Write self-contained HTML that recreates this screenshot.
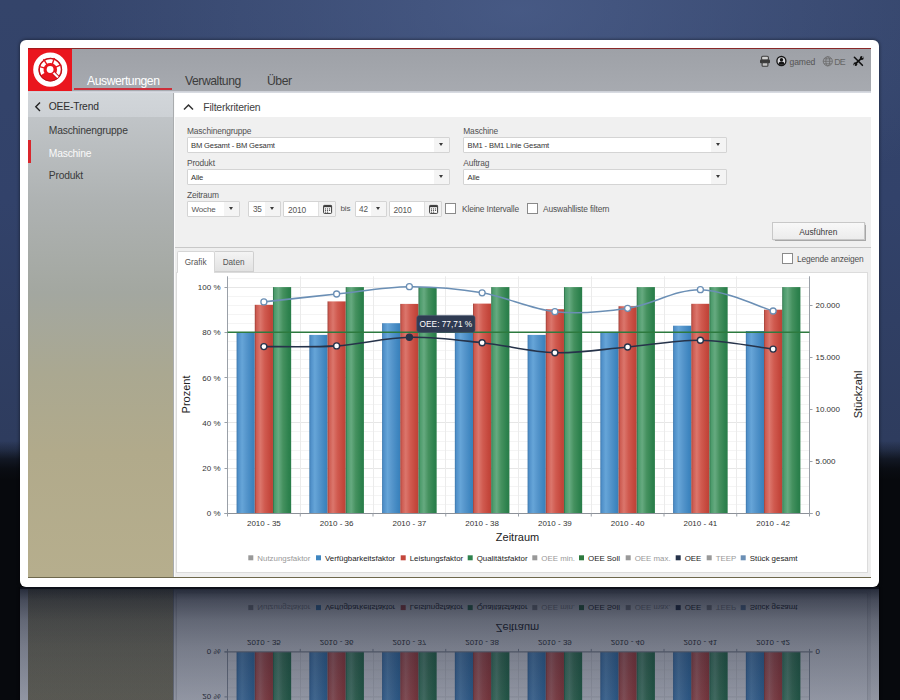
<!DOCTYPE html>
<html><head><meta charset="utf-8">
<style>
*{margin:0;padding:0;box-sizing:border-box}
html,body{width:900px;height:700px;overflow:hidden}
body{font-family:"Liberation Sans",sans-serif;position:relative;
background:
linear-gradient(to bottom, rgba(7,9,13,0) 0px, rgba(7,9,13,0) 441px, rgba(7,9,13,0.3) 450px, rgba(7,9,13,0.7) 459px, rgba(7,9,13,0.92) 469px, #07090d 480px, #07090d 700px),
radial-gradient(ellipse 480px 240px at 520px 10px, rgba(82,102,148,0.62), rgba(82,102,148,0.25) 60%, rgba(82,102,148,0) 100%),
linear-gradient(to bottom, #34446a 0px, #32426a 200px, #2e3c5e 440px, #2c3a5a 460px, #2c3a5a 700px);}
#scene{position:absolute;left:0;top:0;width:900px;height:587px;
}
.a{position:absolute}
#rfx{left:20px;top:587px;width:859px;height:113px;background:linear-gradient(to bottom,rgba(16,20,30,0.6) 0px,rgba(50,70,130,0.2) 3px,rgba(50,70,130,0.2) 113px)}
.card{left:20px;top:40px;width:859px;height:547px;background:#fff;border-radius:6px;box-shadow:0 0 3px 1px rgba(0,0,0,0.35)}
.logo{left:28px;top:48px;width:44px;height:43px;background:#ea161e;box-shadow:inset 0 1.2px 0 #a51a1c}
.hdr{left:72px;top:48px;width:799px;height:43px;background:linear-gradient(to bottom,#9ea1a7,#a7aab0);border-top:1.5px solid #8a2828}
.hdrline{left:28px;top:90.5px;width:843px;height:3px;background:linear-gradient(to bottom,#c9ccd3,#e6e9ef)}
.nav{top:73.7px;font-size:12.2px;letter-spacing:-0.45px;color:#3c3c3c;white-space:nowrap}
.side{left:28px;top:93px;width:145px;height:484.5px;background:linear-gradient(to bottom,#c6cacd 0px,#bfc3c6 30px,#aeb2b2 110px,#a3a7a0 200px,#aaa891 280px,#b1aa8b 360px,#b6ae8d 484px)}
.sidetop{left:28px;top:93px;width:145px;height:24px;background:linear-gradient(to bottom,#d2d6da,#cdd1d5)}
.st{font-size:10.3px;letter-spacing:-0.2px;color:#3a3a3a;white-space:nowrap}
.content{left:173px;top:93px;width:698px;height:484.5px;background:#f0f0f0}
.fhead{left:174px;top:93px;width:697px;height:24px;background:#fff}
.lbl{font-size:8.4px;letter-spacing:-0.15px;color:#505050;white-space:nowrap}
.sel{background:#fff;border:1px solid #d4d4d4;border-radius:1px;height:16px}
.sel .t{position:absolute;left:3.5px;top:3px;font-size:7.6px;letter-spacing:-0.15px;color:#333;white-space:nowrap}
.sel .dd{position:absolute;right:0;top:0;width:15px;height:14px;background:#f4f4f4}
.sel .dd:after{content:"";position:absolute;left:5.1px;top:5px;border-left:2.2px solid transparent;border-right:2.2px solid transparent;border-top:3.6px solid #3a3a3a}
.sel .cal{position:absolute;right:0;top:0;width:17px;height:14px;background:#f2f2f2;border-left:1px solid #e0e0e0}
.cal svg{position:absolute;left:0;top:0}
.cb{width:11px;height:11px;background:#fff;border:1px solid #8a8a8a}
.chartp{left:176px;top:272px;width:692px;height:300.5px;background:#fff;border:1px solid #dcdcdc}
</style></head><body>
<div id="scene">
<div class="a card"></div>
<div class="a logo">
<svg width="43" height="43" viewBox="28 48 43 43" style="position:absolute;left:0;top:0">
<circle cx="50.3" cy="69.7" r="14.5" fill="none" stroke="#fff" stroke-width="5.2"/>
<circle cx="50.3" cy="69.7" r="11.3" fill="none" stroke="#a8141a" stroke-width="0.9"/>
<path d="M42.85,74.0 A8.6,8.6 0 1 1 56.9,75.2" fill="none" stroke="#fff" stroke-width="3.7"/>
<g stroke="#e8141c" stroke-width="1.4">
<line x1="50.3" y1="69.7" x2="38.8" y2="66.4"/>
<line x1="50.3" y1="69.7" x2="43.5" y2="59.2"/>
<line x1="50.3" y1="69.7" x2="54.4" y2="58.1"/>
<line x1="50.3" y1="69.7" x2="61.2" y2="64.6"/>
</g>
<line x1="50.3" y1="69.7" x2="57.8" y2="77.2" stroke="#c8121a" stroke-width="4"/>
<line x1="50.3" y1="69.7" x2="57.4" y2="76.8" stroke="#fff" stroke-width="2.1" stroke-linecap="round"/>
<circle cx="50.3" cy="69.7" r="4.6" fill="#e8141c"/>
<circle cx="50.1" cy="69.5" r="3.4" fill="#fff"/>
</svg>
</div>
<div class="a hdr"></div>
<div class="a hdrline"></div>
<div class="a nav" style="left:87px;color:#fff">Auswertungen</div>
<div class="a" style="left:74px;top:87.8px;width:98px;height:2.4px;background:#cc2f3a"></div>
<div class="a nav" style="left:185px">Verwaltung</div>
<div class="a nav" style="left:267px">Über</div>
<!-- header icons -->
<svg class="a" style="left:755px;top:52px" width="115" height="20" viewBox="755 52 115 20">
<rect x="761.6" y="56.3" width="6.8" height="4" rx="1.2" fill="#d0d0d0" stroke="#3e3e3e" stroke-width="1.1"/>
<rect x="760" y="59.6" width="10" height="3.6" rx="1" fill="#3a3a3a"/>
<rect x="762.1" y="62.6" width="5.8" height="3.6" rx="0.8" fill="#c4c4c4" stroke="#3e3e3e" stroke-width="1.1"/>
<circle cx="781.4" cy="61" r="4.5" fill="#d6d6da" stroke="#151515" stroke-width="1.3"/>
<circle cx="781.5" cy="59.8" r="1.7" fill="#151515"/>
<path d="M778.3,64.8 Q778.6,61.6 781.5,61.6 Q784.4,61.6 784.7,64.8 Z" fill="#151515"/>
<text x="789.5" y="65" font-size="8.6" fill="#555" letter-spacing="-0.1">gamed</text>
<g fill="none" stroke="#6a6a6a" stroke-width="0.8">
<circle cx="827.8" cy="61.3" r="4.6"/>
<ellipse cx="827.8" cy="61.3" rx="2" ry="4.6"/>
<line x1="823.2" y1="61.3" x2="832.4" y2="61.3"/>
<line x1="824" y1="58.8" x2="831.6" y2="58.8"/>
<line x1="824" y1="63.8" x2="831.6" y2="63.8"/>
</g>
<text x="834.2" y="65.2" font-size="8.8" fill="#666" letter-spacing="-0.7">DE</text>
<g stroke="#111" stroke-linecap="round">
<line x1="854.4" y1="57.3" x2="862.4" y2="65.3" stroke-width="1.6"/>
<line x1="856" y1="63.4" x2="861" y2="58.6" stroke-width="1.9"/>
</g>
<g fill="#111">
<circle cx="861.8" cy="58" r="1.9"/>
<circle cx="855.3" cy="64.2" r="1.9"/>
</g>
<g fill="#a2a5ab">
<circle cx="862.7" cy="57.1" r="0.8"/>
<circle cx="854.4" cy="65.1" r="0.8"/>
</g>
</svg>
<!-- sidebar -->
<div class="a side"></div>
<div class="a sidetop"></div>
<svg class="a" style="left:34px;top:101px" width="8" height="11"><path d="M6,1.5 L1.8,5.8 L6,10" fill="none" stroke="#222" stroke-width="1.4"/></svg>
<div class="a st" style="left:48.8px;top:100.5px;color:#2e2e2e">OEE-Trend</div>
<div class="a st" style="left:48.8px;top:125px">Maschinengruppe</div>
<div class="a" style="left:28px;top:140px;width:2.5px;height:23px;background:#d9262c"></div>
<div class="a st" style="left:48.8px;top:148px;color:#fafafa">Maschine</div>
<div class="a st" style="left:48.8px;top:170.2px">Produkt</div>
<!-- content -->
<div class="a content"></div>
<div class="a fhead"></div>
<svg class="a" style="left:183px;top:103px" width="12" height="8"><path d="M1,6.5 L5.5,2 L10,6.5" fill="none" stroke="#333" stroke-width="1.5"/></svg>
<div class="a" style="left:203.3px;top:101.8px;font-size:10.4px;letter-spacing:-0.2px;color:#3e3e3e">Filterkriterien</div>

<div class="a lbl" style="left:187px;top:125.5px">Maschinengruppe</div>
<div class="a sel" style="left:186.5px;top:137px;width:263px"><span class="t">BM Gesamt - BM Gesamt</span><span class="dd"></span></div>
<div class="a lbl" style="left:187px;top:157.5px">Produkt</div>
<div class="a sel" style="left:186.5px;top:168.5px;width:263px"><span class="t">Alle</span><span class="dd"></span></div>
<div class="a lbl" style="left:187px;top:190px">Zeitraum</div>
<div class="a sel" style="left:187px;top:201px;width:53px"><span class="t" style="font-size:8px;top:2.8px;color:#555">Woche</span><span class="dd"></span></div>
<div class="a sel" style="left:248.4px;top:201px;width:33px"><span class="t" style="font-size:8.2px;top:2.8px;color:#555">35</span><span class="dd"></span></div>
<div class="a sel" style="left:283.4px;top:201px;width:53px"><span class="t" style="font-size:8.4px;top:2.6px;color:#555">2010</span><span class="cal"><svg width="17" height="14" viewBox="0 0 17 14"><rect x="4.6" y="3.4" width="8" height="8" rx="0.8" fill="#fff" stroke="#3a3a3a" stroke-width="1"/><rect x="4.6" y="3.4" width="8" height="1.8" fill="#3a3a3a"/><g fill="#3a3a3a"><circle cx="6.6" cy="6.9" r="0.6"/><circle cx="8.6" cy="6.9" r="0.6"/><circle cx="10.6" cy="6.9" r="0.6"/><circle cx="6.6" cy="8.5" r="0.6"/><circle cx="8.6" cy="8.5" r="0.6"/><circle cx="10.6" cy="8.5" r="0.6"/><circle cx="6.6" cy="10.1" r="0.6"/><circle cx="8.6" cy="10.1" r="0.6"/></g></svg></span></div>
<div class="a lbl" style="left:340.5px;top:203.6px;font-size:8.1px;color:#555">bis</div>
<div class="a sel" style="left:354.5px;top:201px;width:32.5px"><span class="t" style="font-size:8.2px;top:2.8px;color:#555">42</span><span class="dd"></span></div>
<div class="a sel" style="left:389px;top:201px;width:53px"><span class="t" style="font-size:8.4px;top:2.6px;color:#555">2010</span><span class="cal"><svg width="17" height="14" viewBox="0 0 17 14"><rect x="4.6" y="3.4" width="8" height="8" rx="0.8" fill="#fff" stroke="#3a3a3a" stroke-width="1"/><rect x="4.6" y="3.4" width="8" height="1.8" fill="#3a3a3a"/><g fill="#3a3a3a"><circle cx="6.6" cy="6.9" r="0.6"/><circle cx="8.6" cy="6.9" r="0.6"/><circle cx="10.6" cy="6.9" r="0.6"/><circle cx="6.6" cy="8.5" r="0.6"/><circle cx="8.6" cy="8.5" r="0.6"/><circle cx="10.6" cy="8.5" r="0.6"/><circle cx="6.6" cy="10.1" r="0.6"/><circle cx="8.6" cy="10.1" r="0.6"/></g></svg></span></div>
<div class="a cb" style="left:445px;top:203px"></div>
<div class="a lbl" style="left:462px;top:204px">Kleine Intervalle</div>
<div class="a cb" style="left:526.5px;top:203px"></div>
<div class="a lbl" style="left:543px;top:204px">Auswahlliste filtern</div>

<div class="a lbl" style="left:463.3px;top:125.5px">Maschine</div>
<div class="a sel" style="left:463px;top:137px;width:264px"><span class="t">BM1 - BM1 Linie Gesamt</span><span class="dd"></span></div>
<div class="a lbl" style="left:463.3px;top:157.5px">Auftrag</div>
<div class="a sel" style="left:463px;top:168.5px;width:264px"><span class="t">Alle</span><span class="dd"></span></div>

<div class="a" style="left:772px;top:222px;width:92.5px;height:17.8px;background:linear-gradient(#f8f8f8,#ececec);border:1px solid #c8c8c8;box-shadow:0.7px 0.7px 0.8px rgba(0,0,0,0.3);font-size:8.4px;color:#3a3a3a;text-align:center;line-height:19px">Ausführen</div>

<!-- chart panel -->
<div class="a" style="left:173px;top:246.5px;width:698px;height:1px;background:#c8c8c8"></div>
<div class="a" style="left:174px;top:247.5px;width:697px;height:330px;background:#efefef"></div>
<div class="a" style="left:176.6px;top:251.2px;width:38px;height:21.3px;background:#fff;border:1px solid #d6d6d6;border-bottom:none;border-radius:2px 2px 0 0;font-size:8.2px;color:#555;text-align:center;line-height:22.5px">Grafik</div>
<div class="a" style="left:214.6px;top:251.2px;width:39px;height:20.8px;border-radius:0 2px 0 0;background:linear-gradient(#f4f4f4,#e2e2e2);border:1px solid #cfcfcf;border-left:none;font-size:8.2px;color:#555;text-align:center;line-height:22.5px">Daten</div>
<div class="a cb" style="left:781.6px;top:253px"></div>
<div class="a lbl" style="left:797px;top:254px">Legende anzeigen</div>
<div class="a chartp"></div>
<div class="a" style="left:177.6px;top:271.5px;width:36.6px;height:1.6px;background:#fff"></div>
<div class="a" style="left:173px;top:93px;width:2px;height:484px;background:#fbfbfb;border-left:0.6px solid #a9acae"></div>
<div class="a" style="left:28px;top:576.5px;width:843px;height:1.2px;background:#6e684c"></div>
<svg width="692" height="300" viewBox="176 272 692 300" style="position:absolute;left:176px;top:272px">
<defs>
<linearGradient id="gb" x1="0" x2="1" y1="0" y2="0"><stop offset="0" stop-color="#3a74a8"/><stop offset="0.08" stop-color="#4f8fc8"/><stop offset="0.3" stop-color="#66a5d8"/><stop offset="0.55" stop-color="#5595cb"/><stop offset="0.85" stop-color="#3f86c0"/><stop offset="1" stop-color="#3a7fb8"/></linearGradient>
<linearGradient id="gr" x1="0" x2="1" y1="0" y2="0"><stop offset="0" stop-color="#9a3b32"/><stop offset="0.08" stop-color="#cc5a50"/><stop offset="0.3" stop-color="#db766c"/><stop offset="0.55" stop-color="#d05a4f"/><stop offset="0.85" stop-color="#c4473c"/><stop offset="1" stop-color="#bd4236"/></linearGradient>
<linearGradient id="gg" x1="0" x2="1" y1="0" y2="0"><stop offset="0" stop-color="#2a6a44"/><stop offset="0.08" stop-color="#4a9a6a"/><stop offset="0.3" stop-color="#66aa80"/><stop offset="0.55" stop-color="#45915f"/><stop offset="0.85" stop-color="#2e824e"/><stop offset="1" stop-color="#287c48"/></linearGradient>
</defs>
<rect x="227.5" y="276.3" width="582.0" height="237.2" fill="#fff"/>
<line x1="227.5" x2="809.5" y1="513.50" y2="513.50" stroke="#e6e6e6" stroke-width="1"/>
<line x1="227.5" x2="809.5" y1="504.50" y2="504.50" stroke="#f4f4f4" stroke-width="1"/>
<line x1="227.5" x2="809.5" y1="495.50" y2="495.50" stroke="#f4f4f4" stroke-width="1"/>
<line x1="227.5" x2="809.5" y1="486.50" y2="486.50" stroke="#f4f4f4" stroke-width="1"/>
<line x1="227.5" x2="809.5" y1="477.50" y2="477.50" stroke="#f4f4f4" stroke-width="1"/>
<line x1="227.5" x2="809.5" y1="468.50" y2="468.50" stroke="#e6e6e6" stroke-width="1"/>
<line x1="227.5" x2="809.5" y1="459.50" y2="459.50" stroke="#f4f4f4" stroke-width="1"/>
<line x1="227.5" x2="809.5" y1="450.50" y2="450.50" stroke="#f4f4f4" stroke-width="1"/>
<line x1="227.5" x2="809.5" y1="441.50" y2="441.50" stroke="#f4f4f4" stroke-width="1"/>
<line x1="227.5" x2="809.5" y1="431.50" y2="431.50" stroke="#f4f4f4" stroke-width="1"/>
<line x1="227.5" x2="809.5" y1="422.50" y2="422.50" stroke="#e6e6e6" stroke-width="1"/>
<line x1="227.5" x2="809.5" y1="413.50" y2="413.50" stroke="#f4f4f4" stroke-width="1"/>
<line x1="227.5" x2="809.5" y1="404.50" y2="404.50" stroke="#f4f4f4" stroke-width="1"/>
<line x1="227.5" x2="809.5" y1="395.50" y2="395.50" stroke="#f4f4f4" stroke-width="1"/>
<line x1="227.5" x2="809.5" y1="386.50" y2="386.50" stroke="#f4f4f4" stroke-width="1"/>
<line x1="227.5" x2="809.5" y1="377.50" y2="377.50" stroke="#e6e6e6" stroke-width="1"/>
<line x1="227.5" x2="809.5" y1="368.50" y2="368.50" stroke="#f4f4f4" stroke-width="1"/>
<line x1="227.5" x2="809.5" y1="359.50" y2="359.50" stroke="#f4f4f4" stroke-width="1"/>
<line x1="227.5" x2="809.5" y1="350.50" y2="350.50" stroke="#f4f4f4" stroke-width="1"/>
<line x1="227.5" x2="809.5" y1="341.50" y2="341.50" stroke="#f4f4f4" stroke-width="1"/>
<line x1="227.5" x2="809.5" y1="332.50" y2="332.50" stroke="#e6e6e6" stroke-width="1"/>
<line x1="227.5" x2="809.5" y1="323.50" y2="323.50" stroke="#f4f4f4" stroke-width="1"/>
<line x1="227.5" x2="809.5" y1="314.50" y2="314.50" stroke="#f4f4f4" stroke-width="1"/>
<line x1="227.5" x2="809.5" y1="305.50" y2="305.50" stroke="#f4f4f4" stroke-width="1"/>
<line x1="227.5" x2="809.5" y1="296.50" y2="296.50" stroke="#f4f4f4" stroke-width="1"/>
<line x1="227.5" x2="809.5" y1="287.50" y2="287.50" stroke="#e6e6e6" stroke-width="1"/>
<line x1="227.5" x2="809.5" y1="278.50" y2="278.50" stroke="#f4f4f4" stroke-width="1"/>
<line x1="300.50" x2="300.50" y1="276.3" y2="513.5" stroke="#ebebeb" stroke-width="1"/>
<line x1="373.50" x2="373.50" y1="276.3" y2="513.5" stroke="#ebebeb" stroke-width="1"/>
<line x1="445.50" x2="445.50" y1="276.3" y2="513.5" stroke="#ebebeb" stroke-width="1"/>
<line x1="518.50" x2="518.50" y1="276.3" y2="513.5" stroke="#ebebeb" stroke-width="1"/>
<line x1="591.50" x2="591.50" y1="276.3" y2="513.5" stroke="#ebebeb" stroke-width="1"/>
<line x1="664.50" x2="664.50" y1="276.3" y2="513.5" stroke="#ebebeb" stroke-width="1"/>
<line x1="736.50" x2="736.50" y1="276.3" y2="513.5" stroke="#ebebeb" stroke-width="1"/>
<rect x="236.59" y="332.50" width="18.19" height="181.00" fill="url(#gb)"/>
<rect x="254.78" y="304.80" width="18.19" height="208.70" fill="url(#gr)"/>
<rect x="272.97" y="287.10" width="18.19" height="226.40" fill="url(#gg)"/>
<rect x="309.34" y="334.90" width="18.19" height="178.60" fill="url(#gb)"/>
<rect x="327.53" y="301.40" width="18.19" height="212.10" fill="url(#gr)"/>
<rect x="345.72" y="287.10" width="18.19" height="226.40" fill="url(#gg)"/>
<rect x="382.09" y="323.20" width="18.19" height="190.30" fill="url(#gb)"/>
<rect x="400.28" y="303.90" width="18.19" height="209.60" fill="url(#gr)"/>
<rect x="418.47" y="287.10" width="18.19" height="226.40" fill="url(#gg)"/>
<rect x="454.84" y="330.50" width="18.19" height="183.00" fill="url(#gb)"/>
<rect x="473.03" y="303.60" width="18.19" height="209.90" fill="url(#gr)"/>
<rect x="491.22" y="287.10" width="18.19" height="226.40" fill="url(#gg)"/>
<rect x="527.59" y="334.90" width="18.19" height="178.60" fill="url(#gb)"/>
<rect x="545.78" y="309.20" width="18.19" height="204.30" fill="url(#gr)"/>
<rect x="563.97" y="287.10" width="18.19" height="226.40" fill="url(#gg)"/>
<rect x="600.34" y="331.80" width="18.19" height="181.70" fill="url(#gb)"/>
<rect x="618.53" y="306.20" width="18.19" height="207.30" fill="url(#gr)"/>
<rect x="636.72" y="287.10" width="18.19" height="226.40" fill="url(#gg)"/>
<rect x="673.09" y="325.70" width="18.19" height="187.80" fill="url(#gb)"/>
<rect x="691.28" y="303.80" width="18.19" height="209.70" fill="url(#gr)"/>
<rect x="709.47" y="287.10" width="18.19" height="226.40" fill="url(#gg)"/>
<rect x="745.84" y="331.00" width="18.19" height="182.50" fill="url(#gb)"/>
<rect x="764.03" y="309.70" width="18.19" height="203.80" fill="url(#gr)"/>
<rect x="782.22" y="287.10" width="18.19" height="226.40" fill="url(#gg)"/>
<line x1="227.5" x2="227.5" y1="276.3" y2="514.0" stroke="#9aa0a8" stroke-width="1"/>
<line x1="809.5" x2="809.5" y1="276.3" y2="514.0" stroke="#9aa0a8" stroke-width="1"/>
<line x1="224.5" x2="812.5" y1="513.5" y2="513.5" stroke="#8c9198" stroke-width="1"/>
<line x1="224.5" x2="227.5" y1="513.50" y2="513.50" stroke="#9aa0a8"/>
<text x="220.5" y="516.40" text-anchor="end" font-size="8" fill="#333">0 %</text>
<line x1="224.5" x2="227.5" y1="468.50" y2="468.50" stroke="#9aa0a8"/>
<text x="220.5" y="471.12" text-anchor="end" font-size="8" fill="#333">20 %</text>
<line x1="224.5" x2="227.5" y1="422.50" y2="422.50" stroke="#9aa0a8"/>
<text x="220.5" y="425.84" text-anchor="end" font-size="8" fill="#333">40 %</text>
<line x1="224.5" x2="227.5" y1="377.50" y2="377.50" stroke="#9aa0a8"/>
<text x="220.5" y="380.56" text-anchor="end" font-size="8" fill="#333">60 %</text>
<line x1="224.5" x2="227.5" y1="332.50" y2="332.50" stroke="#9aa0a8"/>
<text x="220.5" y="335.28" text-anchor="end" font-size="8" fill="#333">80 %</text>
<line x1="224.5" x2="227.5" y1="287.50" y2="287.50" stroke="#9aa0a8"/>
<text x="220.5" y="290.00" text-anchor="end" font-size="8" fill="#333">100 %</text>
<line x1="809.5" x2="812.5" y1="513.50" y2="513.50" stroke="#9aa0a8"/>
<text x="815.5" y="516.40" font-size="8" fill="#333">0</text>
<line x1="809.5" x2="812.5" y1="461.50" y2="461.50" stroke="#9aa0a8"/>
<text x="815.5" y="464.40" font-size="8" fill="#333">5.000</text>
<line x1="809.5" x2="812.5" y1="409.50" y2="409.50" stroke="#9aa0a8"/>
<text x="815.5" y="412.40" font-size="8" fill="#333">10.000</text>
<line x1="809.5" x2="812.5" y1="357.50" y2="357.50" stroke="#9aa0a8"/>
<text x="815.5" y="360.40" font-size="8" fill="#333">15.000</text>
<line x1="809.5" x2="812.5" y1="305.50" y2="305.50" stroke="#9aa0a8"/>
<text x="815.5" y="308.40" font-size="8" fill="#333">20.000</text>
<line x1="227.50" x2="227.50" y1="513.5" y2="516.5" stroke="#9aa0a8"/>
<line x1="300.25" x2="300.25" y1="513.5" y2="516.5" stroke="#9aa0a8"/>
<line x1="373.00" x2="373.00" y1="513.5" y2="516.5" stroke="#9aa0a8"/>
<line x1="445.75" x2="445.75" y1="513.5" y2="516.5" stroke="#9aa0a8"/>
<line x1="518.50" x2="518.50" y1="513.5" y2="516.5" stroke="#9aa0a8"/>
<line x1="591.25" x2="591.25" y1="513.5" y2="516.5" stroke="#9aa0a8"/>
<line x1="664.00" x2="664.00" y1="513.5" y2="516.5" stroke="#9aa0a8"/>
<line x1="736.75" x2="736.75" y1="513.5" y2="516.5" stroke="#9aa0a8"/>
<line x1="809.50" x2="809.50" y1="513.5" y2="516.5" stroke="#9aa0a8"/>
<text x="263.88" y="525.70" text-anchor="middle" font-size="8" fill="#333">2010 - 35</text>
<text x="336.62" y="525.70" text-anchor="middle" font-size="8" fill="#333">2010 - 36</text>
<text x="409.38" y="525.70" text-anchor="middle" font-size="8" fill="#333">2010 - 37</text>
<text x="482.12" y="525.70" text-anchor="middle" font-size="8" fill="#333">2010 - 38</text>
<text x="554.88" y="525.70" text-anchor="middle" font-size="8" fill="#333">2010 - 39</text>
<text x="627.62" y="525.70" text-anchor="middle" font-size="8" fill="#333">2010 - 40</text>
<text x="700.38" y="525.70" text-anchor="middle" font-size="8" fill="#333">2010 - 41</text>
<text x="773.12" y="525.70" text-anchor="middle" font-size="8" fill="#333">2010 - 42</text>
<line x1="227.5" x2="809.5" y1="332.3" y2="332.3" stroke="#2d7a3e" stroke-width="1.6"/>
<path d="M263.88,301.90 C276.00,300.58 312.38,296.53 336.62,294.00 C360.88,291.47 385.12,286.90 409.38,286.70 C433.62,286.50 457.88,288.63 482.12,292.80 C506.38,296.97 530.62,309.12 554.88,311.70 C579.12,314.28 603.38,311.97 627.62,308.30 C651.88,304.63 676.12,289.25 700.38,289.70 C724.62,290.15 761.00,307.45 773.12,311.00" fill="none" stroke="#6b8fb5" stroke-width="1.6"/>
<path d="M263.88,346.60 C276.00,346.48 312.38,347.45 336.62,345.90 C360.88,344.35 385.12,337.83 409.38,337.30 C433.62,336.77 457.88,340.13 482.12,342.70 C506.38,345.27 530.62,351.98 554.88,352.70 C579.12,353.42 603.38,349.07 627.62,347.00 C651.88,344.93 676.12,339.95 700.38,340.30 C724.62,340.65 761.00,347.63 773.12,349.10" fill="none" stroke="#26334a" stroke-width="1.6"/>
<circle cx="263.88" cy="301.90" r="3" fill="#fff" stroke="#6b8fb5" stroke-width="1.3"/>
<circle cx="336.62" cy="294.00" r="3" fill="#fff" stroke="#6b8fb5" stroke-width="1.3"/>
<circle cx="409.38" cy="286.70" r="3" fill="#fff" stroke="#6b8fb5" stroke-width="1.3"/>
<circle cx="482.12" cy="292.80" r="3" fill="#fff" stroke="#6b8fb5" stroke-width="1.3"/>
<circle cx="554.88" cy="311.70" r="3" fill="#fff" stroke="#6b8fb5" stroke-width="1.3"/>
<circle cx="627.62" cy="308.30" r="3" fill="#fff" stroke="#6b8fb5" stroke-width="1.3"/>
<circle cx="700.38" cy="289.70" r="3" fill="#fff" stroke="#6b8fb5" stroke-width="1.3"/>
<circle cx="773.12" cy="311.00" r="3" fill="#fff" stroke="#6b8fb5" stroke-width="1.3"/>
<circle cx="263.88" cy="346.60" r="3" fill="#fff" stroke="#26334a" stroke-width="1.4"/>
<circle cx="336.62" cy="345.90" r="3" fill="#fff" stroke="#26334a" stroke-width="1.4"/>
<circle cx="409.38" cy="337.30" r="3" fill="#26334a" stroke="#26334a" stroke-width="1.4"/>
<circle cx="482.12" cy="342.70" r="3" fill="#fff" stroke="#26334a" stroke-width="1.4"/>
<circle cx="554.88" cy="352.70" r="3" fill="#fff" stroke="#26334a" stroke-width="1.4"/>
<circle cx="627.62" cy="347.00" r="3" fill="#fff" stroke="#26334a" stroke-width="1.4"/>
<circle cx="700.38" cy="340.30" r="3" fill="#fff" stroke="#26334a" stroke-width="1.4"/>
<circle cx="773.12" cy="349.10" r="3" fill="#fff" stroke="#26334a" stroke-width="1.4"/>
<rect x="416.8" y="315.4" width="58.2" height="17" rx="2.5" fill="#2f3b52" stroke="#4a5770" stroke-width="0.6"/>
<text x="445.9" y="327" text-anchor="middle" font-size="8.3" fill="#fff">OEE: 77,71 %</text>
<text transform="translate(190.2,394.5) rotate(-90)" text-anchor="middle" font-size="11" fill="#222">Prozent</text>
<text transform="translate(862,394.5) rotate(-90)" text-anchor="middle" font-size="11" fill="#222">Stückzahl</text>
<text x="517.5" y="541" text-anchor="middle" font-size="11" fill="#222">Zeitraum</text>
<rect x="248.3" y="555.3" width="5" height="5" fill="#999"/>
<text x="257.3" y="560.6" font-size="7.9" fill="#999">Nutzungsfaktor</text>
<rect x="316.0" y="555.3" width="5" height="5" fill="#3f86c0"/>
<text x="325.0" y="560.6" font-size="7.9" fill="#222">Verfügbarkeitsfaktor</text>
<rect x="400.7" y="555.3" width="5" height="5" fill="#c4473c"/>
<text x="409.7" y="560.6" font-size="7.9" fill="#222">Leistungsfaktor</text>
<rect x="467.7" y="555.3" width="5" height="5" fill="#2e824e"/>
<text x="476.7" y="560.6" font-size="7.9" fill="#222">Qualitätsfaktor</text>
<rect x="532.3" y="555.3" width="5" height="5" fill="#999"/>
<text x="541.3" y="560.6" font-size="7.9" fill="#999">OEE min.</text>
<rect x="579.0" y="555.3" width="5" height="5" fill="#2d7a3e"/>
<text x="588.0" y="560.6" font-size="7.9" fill="#222">OEE Soll</text>
<rect x="625.7" y="555.3" width="5" height="5" fill="#999"/>
<text x="634.7" y="560.6" font-size="7.9" fill="#999">OEE max.</text>
<rect x="675.7" y="555.3" width="5" height="5" fill="#26334a"/>
<text x="684.7" y="560.6" font-size="7.9" fill="#222">OEE</text>
<rect x="706.7" y="555.3" width="5" height="5" fill="#999"/>
<text x="715.7" y="560.6" font-size="7.9" fill="#999">TEEP</text>
<rect x="740.7" y="555.3" width="5" height="5" fill="#6b8fb5"/>
<text x="749.7" y="560.6" font-size="7.9" fill="#222">Stück gesamt</text>
</svg>
</div>
<div class="a" style="left:0;top:587px;width:900px;height:113px;overflow:hidden"><div class="a mir" style="left:0;top:-587px;width:900px;height:587px;transform-origin:0 0;transform:matrix(1,0,0,-1,0,1165.4)">
<div class="a card"></div>
<div class="a logo">
<svg width="43" height="43" viewBox="28 48 43 43" style="position:absolute;left:0;top:0">
<circle cx="50.3" cy="69.7" r="14.5" fill="none" stroke="#fff" stroke-width="5.2"/>
<circle cx="50.3" cy="69.7" r="11.3" fill="none" stroke="#a8141a" stroke-width="0.9"/>
<path d="M42.85,74.0 A8.6,8.6 0 1 1 56.9,75.2" fill="none" stroke="#fff" stroke-width="3.7"/>
<g stroke="#e8141c" stroke-width="1.4">
<line x1="50.3" y1="69.7" x2="38.8" y2="66.4"/>
<line x1="50.3" y1="69.7" x2="43.5" y2="59.2"/>
<line x1="50.3" y1="69.7" x2="54.4" y2="58.1"/>
<line x1="50.3" y1="69.7" x2="61.2" y2="64.6"/>
</g>
<line x1="50.3" y1="69.7" x2="57.8" y2="77.2" stroke="#c8121a" stroke-width="4"/>
<line x1="50.3" y1="69.7" x2="57.4" y2="76.8" stroke="#fff" stroke-width="2.1" stroke-linecap="round"/>
<circle cx="50.3" cy="69.7" r="4.6" fill="#e8141c"/>
<circle cx="50.1" cy="69.5" r="3.4" fill="#fff"/>
</svg>
</div>
<div class="a hdr"></div>
<div class="a hdrline"></div>
<div class="a nav" style="left:87px;color:#fff">Auswertungen</div>
<div class="a" style="left:74px;top:87.8px;width:98px;height:2.4px;background:#cc2f3a"></div>
<div class="a nav" style="left:185px">Verwaltung</div>
<div class="a nav" style="left:267px">Über</div>
<!-- header icons -->
<svg class="a" style="left:755px;top:52px" width="115" height="20" viewBox="755 52 115 20">
<rect x="761.6" y="56.3" width="6.8" height="4" rx="1.2" fill="#d0d0d0" stroke="#3e3e3e" stroke-width="1.1"/>
<rect x="760" y="59.6" width="10" height="3.6" rx="1" fill="#3a3a3a"/>
<rect x="762.1" y="62.6" width="5.8" height="3.6" rx="0.8" fill="#c4c4c4" stroke="#3e3e3e" stroke-width="1.1"/>
<circle cx="781.4" cy="61" r="4.5" fill="#d6d6da" stroke="#151515" stroke-width="1.3"/>
<circle cx="781.5" cy="59.8" r="1.7" fill="#151515"/>
<path d="M778.3,64.8 Q778.6,61.6 781.5,61.6 Q784.4,61.6 784.7,64.8 Z" fill="#151515"/>
<text x="789.5" y="65" font-size="8.6" fill="#555" letter-spacing="-0.1">gamed</text>
<g fill="none" stroke="#6a6a6a" stroke-width="0.8">
<circle cx="827.8" cy="61.3" r="4.6"/>
<ellipse cx="827.8" cy="61.3" rx="2" ry="4.6"/>
<line x1="823.2" y1="61.3" x2="832.4" y2="61.3"/>
<line x1="824" y1="58.8" x2="831.6" y2="58.8"/>
<line x1="824" y1="63.8" x2="831.6" y2="63.8"/>
</g>
<text x="834.2" y="65.2" font-size="8.8" fill="#666" letter-spacing="-0.7">DE</text>
<g stroke="#111" stroke-linecap="round">
<line x1="854.4" y1="57.3" x2="862.4" y2="65.3" stroke-width="1.6"/>
<line x1="856" y1="63.4" x2="861" y2="58.6" stroke-width="1.9"/>
</g>
<g fill="#111">
<circle cx="861.8" cy="58" r="1.9"/>
<circle cx="855.3" cy="64.2" r="1.9"/>
</g>
<g fill="#a2a5ab">
<circle cx="862.7" cy="57.1" r="0.8"/>
<circle cx="854.4" cy="65.1" r="0.8"/>
</g>
</svg>
<!-- sidebar -->
<div class="a side"></div>
<div class="a sidetop"></div>
<svg class="a" style="left:34px;top:101px" width="8" height="11"><path d="M6,1.5 L1.8,5.8 L6,10" fill="none" stroke="#222" stroke-width="1.4"/></svg>
<div class="a st" style="left:48.8px;top:100.5px;color:#2e2e2e">OEE-Trend</div>
<div class="a st" style="left:48.8px;top:125px">Maschinengruppe</div>
<div class="a" style="left:28px;top:140px;width:2.5px;height:23px;background:#d9262c"></div>
<div class="a st" style="left:48.8px;top:148px;color:#fafafa">Maschine</div>
<div class="a st" style="left:48.8px;top:170.2px">Produkt</div>
<!-- content -->
<div class="a content"></div>
<div class="a fhead"></div>
<svg class="a" style="left:183px;top:103px" width="12" height="8"><path d="M1,6.5 L5.5,2 L10,6.5" fill="none" stroke="#333" stroke-width="1.5"/></svg>
<div class="a" style="left:203.3px;top:101.8px;font-size:10.4px;letter-spacing:-0.2px;color:#3e3e3e">Filterkriterien</div>

<div class="a lbl" style="left:187px;top:125.5px">Maschinengruppe</div>
<div class="a sel" style="left:186.5px;top:137px;width:263px"><span class="t">BM Gesamt - BM Gesamt</span><span class="dd"></span></div>
<div class="a lbl" style="left:187px;top:157.5px">Produkt</div>
<div class="a sel" style="left:186.5px;top:168.5px;width:263px"><span class="t">Alle</span><span class="dd"></span></div>
<div class="a lbl" style="left:187px;top:190px">Zeitraum</div>
<div class="a sel" style="left:187px;top:201px;width:53px"><span class="t" style="font-size:8px;top:2.8px;color:#555">Woche</span><span class="dd"></span></div>
<div class="a sel" style="left:248.4px;top:201px;width:33px"><span class="t" style="font-size:8.2px;top:2.8px;color:#555">35</span><span class="dd"></span></div>
<div class="a sel" style="left:283.4px;top:201px;width:53px"><span class="t" style="font-size:8.4px;top:2.6px;color:#555">2010</span><span class="cal"><svg width="17" height="14" viewBox="0 0 17 14"><rect x="4.6" y="3.4" width="8" height="8" rx="0.8" fill="#fff" stroke="#3a3a3a" stroke-width="1"/><rect x="4.6" y="3.4" width="8" height="1.8" fill="#3a3a3a"/><g fill="#3a3a3a"><circle cx="6.6" cy="6.9" r="0.6"/><circle cx="8.6" cy="6.9" r="0.6"/><circle cx="10.6" cy="6.9" r="0.6"/><circle cx="6.6" cy="8.5" r="0.6"/><circle cx="8.6" cy="8.5" r="0.6"/><circle cx="10.6" cy="8.5" r="0.6"/><circle cx="6.6" cy="10.1" r="0.6"/><circle cx="8.6" cy="10.1" r="0.6"/></g></svg></span></div>
<div class="a lbl" style="left:340.5px;top:203.6px;font-size:8.1px;color:#555">bis</div>
<div class="a sel" style="left:354.5px;top:201px;width:32.5px"><span class="t" style="font-size:8.2px;top:2.8px;color:#555">42</span><span class="dd"></span></div>
<div class="a sel" style="left:389px;top:201px;width:53px"><span class="t" style="font-size:8.4px;top:2.6px;color:#555">2010</span><span class="cal"><svg width="17" height="14" viewBox="0 0 17 14"><rect x="4.6" y="3.4" width="8" height="8" rx="0.8" fill="#fff" stroke="#3a3a3a" stroke-width="1"/><rect x="4.6" y="3.4" width="8" height="1.8" fill="#3a3a3a"/><g fill="#3a3a3a"><circle cx="6.6" cy="6.9" r="0.6"/><circle cx="8.6" cy="6.9" r="0.6"/><circle cx="10.6" cy="6.9" r="0.6"/><circle cx="6.6" cy="8.5" r="0.6"/><circle cx="8.6" cy="8.5" r="0.6"/><circle cx="10.6" cy="8.5" r="0.6"/><circle cx="6.6" cy="10.1" r="0.6"/><circle cx="8.6" cy="10.1" r="0.6"/></g></svg></span></div>
<div class="a cb" style="left:445px;top:203px"></div>
<div class="a lbl" style="left:462px;top:204px">Kleine Intervalle</div>
<div class="a cb" style="left:526.5px;top:203px"></div>
<div class="a lbl" style="left:543px;top:204px">Auswahlliste filtern</div>

<div class="a lbl" style="left:463.3px;top:125.5px">Maschine</div>
<div class="a sel" style="left:463px;top:137px;width:264px"><span class="t">BM1 - BM1 Linie Gesamt</span><span class="dd"></span></div>
<div class="a lbl" style="left:463.3px;top:157.5px">Auftrag</div>
<div class="a sel" style="left:463px;top:168.5px;width:264px"><span class="t">Alle</span><span class="dd"></span></div>

<div class="a" style="left:772px;top:222px;width:92.5px;height:17.8px;background:linear-gradient(#f8f8f8,#ececec);border:1px solid #c8c8c8;box-shadow:0.7px 0.7px 0.8px rgba(0,0,0,0.3);font-size:8.4px;color:#3a3a3a;text-align:center;line-height:19px">Ausführen</div>

<!-- chart panel -->
<div class="a" style="left:173px;top:246.5px;width:698px;height:1px;background:#c8c8c8"></div>
<div class="a" style="left:174px;top:247.5px;width:697px;height:330px;background:#efefef"></div>
<div class="a" style="left:176.6px;top:251.2px;width:38px;height:21.3px;background:#fff;border:1px solid #d6d6d6;border-bottom:none;border-radius:2px 2px 0 0;font-size:8.2px;color:#555;text-align:center;line-height:22.5px">Grafik</div>
<div class="a" style="left:214.6px;top:251.2px;width:39px;height:20.8px;border-radius:0 2px 0 0;background:linear-gradient(#f4f4f4,#e2e2e2);border:1px solid #cfcfcf;border-left:none;font-size:8.2px;color:#555;text-align:center;line-height:22.5px">Daten</div>
<div class="a cb" style="left:781.6px;top:253px"></div>
<div class="a lbl" style="left:797px;top:254px">Legende anzeigen</div>
<div class="a chartp"></div>
<div class="a" style="left:177.6px;top:271.5px;width:36.6px;height:1.6px;background:#fff"></div>
<div class="a" style="left:173px;top:93px;width:2px;height:484px;background:#fbfbfb;border-left:0.6px solid #a9acae"></div>
<div class="a" style="left:28px;top:576.5px;width:843px;height:1.2px;background:#6e684c"></div>
<svg width="692" height="300" viewBox="176 272 692 300" style="position:absolute;left:176px;top:272px">
<defs>
<linearGradient id="gbm" x1="0" x2="1" y1="0" y2="0"><stop offset="0" stop-color="#3a74a8"/><stop offset="0.08" stop-color="#4f8fc8"/><stop offset="0.3" stop-color="#66a5d8"/><stop offset="0.55" stop-color="#5595cb"/><stop offset="0.85" stop-color="#3f86c0"/><stop offset="1" stop-color="#3a7fb8"/></linearGradient>
<linearGradient id="grm" x1="0" x2="1" y1="0" y2="0"><stop offset="0" stop-color="#9a3b32"/><stop offset="0.08" stop-color="#cc5a50"/><stop offset="0.3" stop-color="#db766c"/><stop offset="0.55" stop-color="#d05a4f"/><stop offset="0.85" stop-color="#c4473c"/><stop offset="1" stop-color="#bd4236"/></linearGradient>
<linearGradient id="ggm" x1="0" x2="1" y1="0" y2="0"><stop offset="0" stop-color="#2a6a44"/><stop offset="0.08" stop-color="#4a9a6a"/><stop offset="0.3" stop-color="#66aa80"/><stop offset="0.55" stop-color="#45915f"/><stop offset="0.85" stop-color="#2e824e"/><stop offset="1" stop-color="#287c48"/></linearGradient>
</defs>
<rect x="227.5" y="276.3" width="582.0" height="237.2" fill="#fff"/>
<line x1="227.5" x2="809.5" y1="513.50" y2="513.50" stroke="#e6e6e6" stroke-width="1"/>
<line x1="227.5" x2="809.5" y1="504.50" y2="504.50" stroke="#f4f4f4" stroke-width="1"/>
<line x1="227.5" x2="809.5" y1="495.50" y2="495.50" stroke="#f4f4f4" stroke-width="1"/>
<line x1="227.5" x2="809.5" y1="486.50" y2="486.50" stroke="#f4f4f4" stroke-width="1"/>
<line x1="227.5" x2="809.5" y1="477.50" y2="477.50" stroke="#f4f4f4" stroke-width="1"/>
<line x1="227.5" x2="809.5" y1="468.50" y2="468.50" stroke="#e6e6e6" stroke-width="1"/>
<line x1="227.5" x2="809.5" y1="459.50" y2="459.50" stroke="#f4f4f4" stroke-width="1"/>
<line x1="227.5" x2="809.5" y1="450.50" y2="450.50" stroke="#f4f4f4" stroke-width="1"/>
<line x1="227.5" x2="809.5" y1="441.50" y2="441.50" stroke="#f4f4f4" stroke-width="1"/>
<line x1="227.5" x2="809.5" y1="431.50" y2="431.50" stroke="#f4f4f4" stroke-width="1"/>
<line x1="227.5" x2="809.5" y1="422.50" y2="422.50" stroke="#e6e6e6" stroke-width="1"/>
<line x1="227.5" x2="809.5" y1="413.50" y2="413.50" stroke="#f4f4f4" stroke-width="1"/>
<line x1="227.5" x2="809.5" y1="404.50" y2="404.50" stroke="#f4f4f4" stroke-width="1"/>
<line x1="227.5" x2="809.5" y1="395.50" y2="395.50" stroke="#f4f4f4" stroke-width="1"/>
<line x1="227.5" x2="809.5" y1="386.50" y2="386.50" stroke="#f4f4f4" stroke-width="1"/>
<line x1="227.5" x2="809.5" y1="377.50" y2="377.50" stroke="#e6e6e6" stroke-width="1"/>
<line x1="227.5" x2="809.5" y1="368.50" y2="368.50" stroke="#f4f4f4" stroke-width="1"/>
<line x1="227.5" x2="809.5" y1="359.50" y2="359.50" stroke="#f4f4f4" stroke-width="1"/>
<line x1="227.5" x2="809.5" y1="350.50" y2="350.50" stroke="#f4f4f4" stroke-width="1"/>
<line x1="227.5" x2="809.5" y1="341.50" y2="341.50" stroke="#f4f4f4" stroke-width="1"/>
<line x1="227.5" x2="809.5" y1="332.50" y2="332.50" stroke="#e6e6e6" stroke-width="1"/>
<line x1="227.5" x2="809.5" y1="323.50" y2="323.50" stroke="#f4f4f4" stroke-width="1"/>
<line x1="227.5" x2="809.5" y1="314.50" y2="314.50" stroke="#f4f4f4" stroke-width="1"/>
<line x1="227.5" x2="809.5" y1="305.50" y2="305.50" stroke="#f4f4f4" stroke-width="1"/>
<line x1="227.5" x2="809.5" y1="296.50" y2="296.50" stroke="#f4f4f4" stroke-width="1"/>
<line x1="227.5" x2="809.5" y1="287.50" y2="287.50" stroke="#e6e6e6" stroke-width="1"/>
<line x1="227.5" x2="809.5" y1="278.50" y2="278.50" stroke="#f4f4f4" stroke-width="1"/>
<line x1="300.50" x2="300.50" y1="276.3" y2="513.5" stroke="#ebebeb" stroke-width="1"/>
<line x1="373.50" x2="373.50" y1="276.3" y2="513.5" stroke="#ebebeb" stroke-width="1"/>
<line x1="445.50" x2="445.50" y1="276.3" y2="513.5" stroke="#ebebeb" stroke-width="1"/>
<line x1="518.50" x2="518.50" y1="276.3" y2="513.5" stroke="#ebebeb" stroke-width="1"/>
<line x1="591.50" x2="591.50" y1="276.3" y2="513.5" stroke="#ebebeb" stroke-width="1"/>
<line x1="664.50" x2="664.50" y1="276.3" y2="513.5" stroke="#ebebeb" stroke-width="1"/>
<line x1="736.50" x2="736.50" y1="276.3" y2="513.5" stroke="#ebebeb" stroke-width="1"/>
<rect x="236.59" y="332.50" width="18.19" height="181.00" fill="url(#gbm)"/>
<rect x="254.78" y="304.80" width="18.19" height="208.70" fill="url(#grm)"/>
<rect x="272.97" y="287.10" width="18.19" height="226.40" fill="url(#ggm)"/>
<rect x="309.34" y="334.90" width="18.19" height="178.60" fill="url(#gbm)"/>
<rect x="327.53" y="301.40" width="18.19" height="212.10" fill="url(#grm)"/>
<rect x="345.72" y="287.10" width="18.19" height="226.40" fill="url(#ggm)"/>
<rect x="382.09" y="323.20" width="18.19" height="190.30" fill="url(#gbm)"/>
<rect x="400.28" y="303.90" width="18.19" height="209.60" fill="url(#grm)"/>
<rect x="418.47" y="287.10" width="18.19" height="226.40" fill="url(#ggm)"/>
<rect x="454.84" y="330.50" width="18.19" height="183.00" fill="url(#gbm)"/>
<rect x="473.03" y="303.60" width="18.19" height="209.90" fill="url(#grm)"/>
<rect x="491.22" y="287.10" width="18.19" height="226.40" fill="url(#ggm)"/>
<rect x="527.59" y="334.90" width="18.19" height="178.60" fill="url(#gbm)"/>
<rect x="545.78" y="309.20" width="18.19" height="204.30" fill="url(#grm)"/>
<rect x="563.97" y="287.10" width="18.19" height="226.40" fill="url(#ggm)"/>
<rect x="600.34" y="331.80" width="18.19" height="181.70" fill="url(#gbm)"/>
<rect x="618.53" y="306.20" width="18.19" height="207.30" fill="url(#grm)"/>
<rect x="636.72" y="287.10" width="18.19" height="226.40" fill="url(#ggm)"/>
<rect x="673.09" y="325.70" width="18.19" height="187.80" fill="url(#gbm)"/>
<rect x="691.28" y="303.80" width="18.19" height="209.70" fill="url(#grm)"/>
<rect x="709.47" y="287.10" width="18.19" height="226.40" fill="url(#ggm)"/>
<rect x="745.84" y="331.00" width="18.19" height="182.50" fill="url(#gbm)"/>
<rect x="764.03" y="309.70" width="18.19" height="203.80" fill="url(#grm)"/>
<rect x="782.22" y="287.10" width="18.19" height="226.40" fill="url(#ggm)"/>
<line x1="227.5" x2="227.5" y1="276.3" y2="514.0" stroke="#9aa0a8" stroke-width="1"/>
<line x1="809.5" x2="809.5" y1="276.3" y2="514.0" stroke="#9aa0a8" stroke-width="1"/>
<line x1="224.5" x2="812.5" y1="513.5" y2="513.5" stroke="#8c9198" stroke-width="1"/>
<line x1="224.5" x2="227.5" y1="513.50" y2="513.50" stroke="#9aa0a8"/>
<text x="220.5" y="516.40" text-anchor="end" font-size="8" fill="#333">0 %</text>
<line x1="224.5" x2="227.5" y1="468.50" y2="468.50" stroke="#9aa0a8"/>
<text x="220.5" y="471.12" text-anchor="end" font-size="8" fill="#333">20 %</text>
<line x1="224.5" x2="227.5" y1="422.50" y2="422.50" stroke="#9aa0a8"/>
<text x="220.5" y="425.84" text-anchor="end" font-size="8" fill="#333">40 %</text>
<line x1="224.5" x2="227.5" y1="377.50" y2="377.50" stroke="#9aa0a8"/>
<text x="220.5" y="380.56" text-anchor="end" font-size="8" fill="#333">60 %</text>
<line x1="224.5" x2="227.5" y1="332.50" y2="332.50" stroke="#9aa0a8"/>
<text x="220.5" y="335.28" text-anchor="end" font-size="8" fill="#333">80 %</text>
<line x1="224.5" x2="227.5" y1="287.50" y2="287.50" stroke="#9aa0a8"/>
<text x="220.5" y="290.00" text-anchor="end" font-size="8" fill="#333">100 %</text>
<line x1="809.5" x2="812.5" y1="513.50" y2="513.50" stroke="#9aa0a8"/>
<text x="815.5" y="516.40" font-size="8" fill="#333">0</text>
<line x1="809.5" x2="812.5" y1="461.50" y2="461.50" stroke="#9aa0a8"/>
<text x="815.5" y="464.40" font-size="8" fill="#333">5.000</text>
<line x1="809.5" x2="812.5" y1="409.50" y2="409.50" stroke="#9aa0a8"/>
<text x="815.5" y="412.40" font-size="8" fill="#333">10.000</text>
<line x1="809.5" x2="812.5" y1="357.50" y2="357.50" stroke="#9aa0a8"/>
<text x="815.5" y="360.40" font-size="8" fill="#333">15.000</text>
<line x1="809.5" x2="812.5" y1="305.50" y2="305.50" stroke="#9aa0a8"/>
<text x="815.5" y="308.40" font-size="8" fill="#333">20.000</text>
<line x1="227.50" x2="227.50" y1="513.5" y2="516.5" stroke="#9aa0a8"/>
<line x1="300.25" x2="300.25" y1="513.5" y2="516.5" stroke="#9aa0a8"/>
<line x1="373.00" x2="373.00" y1="513.5" y2="516.5" stroke="#9aa0a8"/>
<line x1="445.75" x2="445.75" y1="513.5" y2="516.5" stroke="#9aa0a8"/>
<line x1="518.50" x2="518.50" y1="513.5" y2="516.5" stroke="#9aa0a8"/>
<line x1="591.25" x2="591.25" y1="513.5" y2="516.5" stroke="#9aa0a8"/>
<line x1="664.00" x2="664.00" y1="513.5" y2="516.5" stroke="#9aa0a8"/>
<line x1="736.75" x2="736.75" y1="513.5" y2="516.5" stroke="#9aa0a8"/>
<line x1="809.50" x2="809.50" y1="513.5" y2="516.5" stroke="#9aa0a8"/>
<text x="263.88" y="525.70" text-anchor="middle" font-size="8" fill="#333">2010 - 35</text>
<text x="336.62" y="525.70" text-anchor="middle" font-size="8" fill="#333">2010 - 36</text>
<text x="409.38" y="525.70" text-anchor="middle" font-size="8" fill="#333">2010 - 37</text>
<text x="482.12" y="525.70" text-anchor="middle" font-size="8" fill="#333">2010 - 38</text>
<text x="554.88" y="525.70" text-anchor="middle" font-size="8" fill="#333">2010 - 39</text>
<text x="627.62" y="525.70" text-anchor="middle" font-size="8" fill="#333">2010 - 40</text>
<text x="700.38" y="525.70" text-anchor="middle" font-size="8" fill="#333">2010 - 41</text>
<text x="773.12" y="525.70" text-anchor="middle" font-size="8" fill="#333">2010 - 42</text>
<line x1="227.5" x2="809.5" y1="332.3" y2="332.3" stroke="#2d7a3e" stroke-width="1.6"/>
<path d="M263.88,301.90 C276.00,300.58 312.38,296.53 336.62,294.00 C360.88,291.47 385.12,286.90 409.38,286.70 C433.62,286.50 457.88,288.63 482.12,292.80 C506.38,296.97 530.62,309.12 554.88,311.70 C579.12,314.28 603.38,311.97 627.62,308.30 C651.88,304.63 676.12,289.25 700.38,289.70 C724.62,290.15 761.00,307.45 773.12,311.00" fill="none" stroke="#6b8fb5" stroke-width="1.6"/>
<path d="M263.88,346.60 C276.00,346.48 312.38,347.45 336.62,345.90 C360.88,344.35 385.12,337.83 409.38,337.30 C433.62,336.77 457.88,340.13 482.12,342.70 C506.38,345.27 530.62,351.98 554.88,352.70 C579.12,353.42 603.38,349.07 627.62,347.00 C651.88,344.93 676.12,339.95 700.38,340.30 C724.62,340.65 761.00,347.63 773.12,349.10" fill="none" stroke="#26334a" stroke-width="1.6"/>
<circle cx="263.88" cy="301.90" r="3" fill="#fff" stroke="#6b8fb5" stroke-width="1.3"/>
<circle cx="336.62" cy="294.00" r="3" fill="#fff" stroke="#6b8fb5" stroke-width="1.3"/>
<circle cx="409.38" cy="286.70" r="3" fill="#fff" stroke="#6b8fb5" stroke-width="1.3"/>
<circle cx="482.12" cy="292.80" r="3" fill="#fff" stroke="#6b8fb5" stroke-width="1.3"/>
<circle cx="554.88" cy="311.70" r="3" fill="#fff" stroke="#6b8fb5" stroke-width="1.3"/>
<circle cx="627.62" cy="308.30" r="3" fill="#fff" stroke="#6b8fb5" stroke-width="1.3"/>
<circle cx="700.38" cy="289.70" r="3" fill="#fff" stroke="#6b8fb5" stroke-width="1.3"/>
<circle cx="773.12" cy="311.00" r="3" fill="#fff" stroke="#6b8fb5" stroke-width="1.3"/>
<circle cx="263.88" cy="346.60" r="3" fill="#fff" stroke="#26334a" stroke-width="1.4"/>
<circle cx="336.62" cy="345.90" r="3" fill="#fff" stroke="#26334a" stroke-width="1.4"/>
<circle cx="409.38" cy="337.30" r="3" fill="#26334a" stroke="#26334a" stroke-width="1.4"/>
<circle cx="482.12" cy="342.70" r="3" fill="#fff" stroke="#26334a" stroke-width="1.4"/>
<circle cx="554.88" cy="352.70" r="3" fill="#fff" stroke="#26334a" stroke-width="1.4"/>
<circle cx="627.62" cy="347.00" r="3" fill="#fff" stroke="#26334a" stroke-width="1.4"/>
<circle cx="700.38" cy="340.30" r="3" fill="#fff" stroke="#26334a" stroke-width="1.4"/>
<circle cx="773.12" cy="349.10" r="3" fill="#fff" stroke="#26334a" stroke-width="1.4"/>
<rect x="416.8" y="315.4" width="58.2" height="17" rx="2.5" fill="#2f3b52" stroke="#4a5770" stroke-width="0.6"/>
<text x="445.9" y="327" text-anchor="middle" font-size="8.3" fill="#fff">OEE: 77,71 %</text>
<text transform="translate(190.2,394.5) rotate(-90)" text-anchor="middle" font-size="11" fill="#222">Prozent</text>
<text transform="translate(862,394.5) rotate(-90)" text-anchor="middle" font-size="11" fill="#222">Stückzahl</text>
<text x="517.5" y="541" text-anchor="middle" font-size="11" fill="#222">Zeitraum</text>
<rect x="248.3" y="555.3" width="5" height="5" fill="#999"/>
<text x="257.3" y="560.6" font-size="7.9" fill="#999">Nutzungsfaktor</text>
<rect x="316.0" y="555.3" width="5" height="5" fill="#3f86c0"/>
<text x="325.0" y="560.6" font-size="7.9" fill="#222">Verfügbarkeitsfaktor</text>
<rect x="400.7" y="555.3" width="5" height="5" fill="#c4473c"/>
<text x="409.7" y="560.6" font-size="7.9" fill="#222">Leistungsfaktor</text>
<rect x="467.7" y="555.3" width="5" height="5" fill="#2e824e"/>
<text x="476.7" y="560.6" font-size="7.9" fill="#222">Qualitätsfaktor</text>
<rect x="532.3" y="555.3" width="5" height="5" fill="#999"/>
<text x="541.3" y="560.6" font-size="7.9" fill="#999">OEE min.</text>
<rect x="579.0" y="555.3" width="5" height="5" fill="#2d7a3e"/>
<text x="588.0" y="560.6" font-size="7.9" fill="#222">OEE Soll</text>
<rect x="625.7" y="555.3" width="5" height="5" fill="#999"/>
<text x="634.7" y="560.6" font-size="7.9" fill="#999">OEE max.</text>
<rect x="675.7" y="555.3" width="5" height="5" fill="#26334a"/>
<text x="684.7" y="560.6" font-size="7.9" fill="#222">OEE</text>
<rect x="706.7" y="555.3" width="5" height="5" fill="#999"/>
<text x="715.7" y="560.6" font-size="7.9" fill="#999">TEEP</text>
<rect x="740.7" y="555.3" width="5" height="5" fill="#6b8fb5"/>
<text x="749.7" y="560.6" font-size="7.9" fill="#222">Stück gesamt</text>
</svg></div></div><div class="a" style="left:20px;top:587px;width:859px;height:113px;background:linear-gradient(to bottom,rgba(7,9,13,1) 0px,rgba(7,9,13,1) 1.6px,rgba(7,9,13,.88) 2.1px,rgba(7,9,13,.72) 13.4px,rgba(7,9,13,.58) 33.4px,rgba(7,9,13,.48) 60.4px,rgba(7,9,13,.35) 113px)"></div>
<div class="a" id="rfx"></div>
<div class="a" style="left:28px;top:589px;width:145px;height:111px;background:linear-gradient(to bottom,rgba(60,58,36,0.12),rgba(40,38,24,0.25))"></div>
</body></html>
